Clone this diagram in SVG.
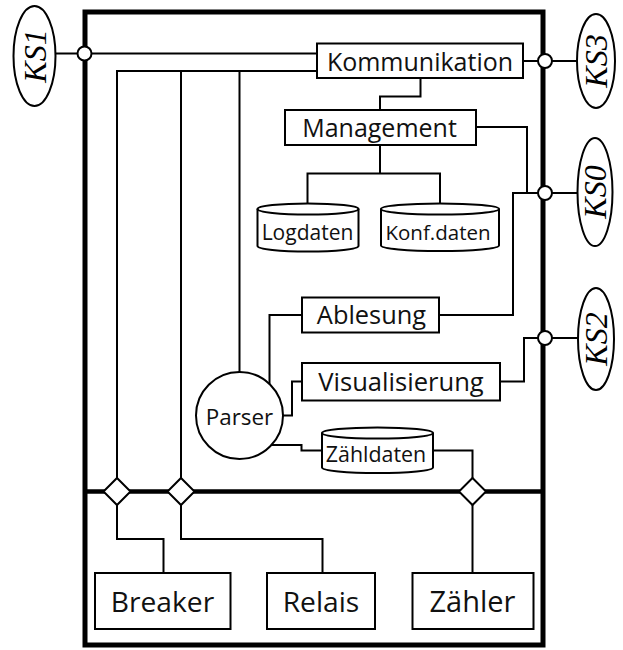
<svg xmlns="http://www.w3.org/2000/svg" width="623" height="650" viewBox="0 0 623 650">
  <style>
    .box { fill: #fff; stroke: #000; stroke-width: 2; }
    .wire { fill: none; stroke: #000; stroke-width: 2; }
    .frame { fill: none; stroke: #000; stroke-width: 5; }
    .bus { fill: none; stroke: #000; stroke-width: 4.5; }
    .port { fill: #fff; stroke: #000; stroke-width: 2; }
    .lbl { font-family: "Open Sans", "Noto Sans", sans-serif; fill: #111; text-anchor: middle; }
    .ks { font-family: "Liberation Serif", "Times New Roman", serif; font-style: italic; fill: #000; text-anchor: middle; font-size: 32px; }
  </style>

  <!-- housing and internal bus -->
  <rect class="frame" x="85" y="12" width="458" height="633"/>
  <line class="bus" x1="85" y1="491.5" x2="543" y2="491.5"/>

  <g id="connectors">
    <!-- KS1 to Kommunikation -->
    <line class="wire" x1="56" y1="53.5" x2="317" y2="53.5"/>
    <!-- Kommunikation to internal branches -->
    <polyline class="wire" points="317,71 117,71 117,478"/>
    <line class="wire" x1="181" y1="71" x2="181" y2="478"/>
    <line class="wire" x1="239.5" y1="71" x2="239.5" y2="372"/>
    <!-- Kommunikation to KS3 -->
    <line class="wire" x1="523" y1="61" x2="578" y2="61"/>
    <!-- Kommunikation to Management -->
    <polyline class="wire" points="420.5,78 420.5,96.5 380,96.5 380,110"/>
    <!-- Management to data stores -->
    <line class="wire" x1="380" y1="145" x2="380" y2="173.5"/>
    <polyline class="wire" points="307.5,204 307.5,173.5 440,173.5 440,204"/>
    <!-- Management / Ablesung to KS0 -->
    <polyline class="wire" points="476,127 527,127 527,193"/>
    <polyline class="wire" points="439,315 513,315 513,193 578,193"/>
    <!-- Visualisierung to KS2 -->
    <polyline class="wire" points="500,381.5 524,381.5 524,338 578,338"/>
    <!-- Parser links -->
    <polyline class="wire" points="302,315 269.5,315 269.5,384"/>
    <polyline class="wire" points="302,381.5 292,381.5 292,415.5 283,415.5"/>
    <polyline class="wire" points="271.5,445 301.5,445 301.5,450.5 322,450.5"/>
    <!-- Zähldaten to bus -->
    <polyline class="wire" points="433,450.5 472.5,450.5 472.5,478"/>
    <!-- bus to devices -->
    <polyline class="wire" points="117,505 117,539 163.5,539 163.5,573"/>
    <polyline class="wire" points="181,505 181,539 322.5,539 322.5,573"/>
    <line class="wire" x1="472.5" y1="505" x2="472.5" y2="573"/>
  </g>

  <!-- bus ports -->
  <g id="ports">
    <circle class="port" cx="84.5" cy="53.5" r="7"/>
    <circle class="port" cx="545" cy="61" r="7"/>
    <circle class="port" cx="545" cy="193" r="7"/>
    <circle class="port" cx="545" cy="338" r="7"/>
    <polygon class="port" points="117,478 130.5,491.5 117,505 103.5,491.5"/>
    <polygon class="port" points="181,478 194.5,491.5 181,505 167.5,491.5"/>
    <polygon class="port" points="472.5,478 486,491.5 472.5,505 459,491.5"/>
  </g>

  <!-- external interfaces -->
  <g id="ks1">
    <ellipse class="box" cx="34.5" cy="56" rx="21" ry="50"/>
    <text class="ks" transform="translate(34.5,56) rotate(-90)" y="11">KS1</text>
  </g>
  <g id="ks3">
    <ellipse class="box" cx="596" cy="61" rx="19" ry="47"/>
    <text class="ks" transform="translate(596,61) rotate(-90)" y="11">KS3</text>
  </g>
  <g id="ks0">
    <ellipse class="box" cx="595" cy="192" rx="17.5" ry="54"/>
    <text class="ks" transform="translate(595,192) rotate(-90)" y="11">KS0</text>
  </g>
  <g id="ks2">
    <ellipse class="box" cx="596" cy="339" rx="18" ry="51"/>
    <text class="ks" transform="translate(596,339) rotate(-90)" y="11">KS2</text>
  </g>

  <!-- software components -->
  <g id="kommunikation">
    <rect class="box" x="317" y="43.5" width="206" height="34.5"/>
    <text class="lbl" x="420" y="71" font-size="25">Kommunikation</text>
  </g>
  <g id="management">
    <rect class="box" x="285" y="110" width="191" height="35"/>
    <text class="lbl" x="379.5" y="137" font-size="25">Management</text>
  </g>
  <g id="logdaten">
    <path class="box" d="M257.5,209 A50.5,5.5 0 0 1 358.5,209 V246 A50.5,5.5 0 0 1 257.5,246 Z"/>
    <path class="wire" d="M257.5,209 A50.5,5.5 0 0 0 358.5,209"/>
    <text class="lbl" x="307.5" y="240" font-size="21">Logdaten</text>
  </g>
  <g id="konfdaten">
    <path class="box" d="M381,209 A59,5.5 0 0 1 499,209 V245.5 A59,5.5 0 0 1 381,245.5 Z"/>
    <path class="wire" d="M381,209 A59,5.5 0 0 0 499,209"/>
    <text class="lbl" x="438" y="240" font-size="20.5">Konf.daten</text>
  </g>
  <g id="ablesung">
    <rect class="box" x="302" y="297.5" width="137" height="35"/>
    <text class="lbl" x="371.5" y="324" font-size="25.4">Ablesung</text>
  </g>
  <g id="visualisierung">
    <rect class="box" x="302" y="363" width="198" height="37.5"/>
    <text class="lbl" x="401" y="390.5" font-size="25.6">Visualisierung</text>
  </g>
  <g id="parser">
    <circle class="box" cx="239.5" cy="415.5" r="43.5"/>
    <text class="lbl" x="239.5" y="424.5" font-size="22.4">Parser</text>
  </g>
  <g id="zaehldaten">
    <path class="box" d="M322,433 A55.5,5.5 0 0 1 433,433 V467.5 A55.5,5.5 0 0 1 322,467.5 Z"/>
    <path class="wire" d="M322,433 A55.5,5.5 0 0 0 433,433"/>
    <text class="lbl" x="376" y="461.5" font-size="21.4">Zähldaten</text>
  </g>

  <!-- field devices -->
  <g id="breaker">
    <rect class="box" x="95" y="573" width="135.5" height="56"/>
    <text class="lbl" x="162.5" y="611.5" font-size="28.2">Breaker</text>
  </g>
  <g id="relais">
    <rect class="box" x="267" y="573" width="108" height="56"/>
    <text class="lbl" x="321" y="611.5" font-size="28.2">Relais</text>
  </g>
  <g id="zaehler">
    <rect class="box" x="412.5" y="573" width="121" height="56"/>
    <text class="lbl" x="472.5" y="611.5" font-size="29">Zähler</text>
  </g>
</svg>
